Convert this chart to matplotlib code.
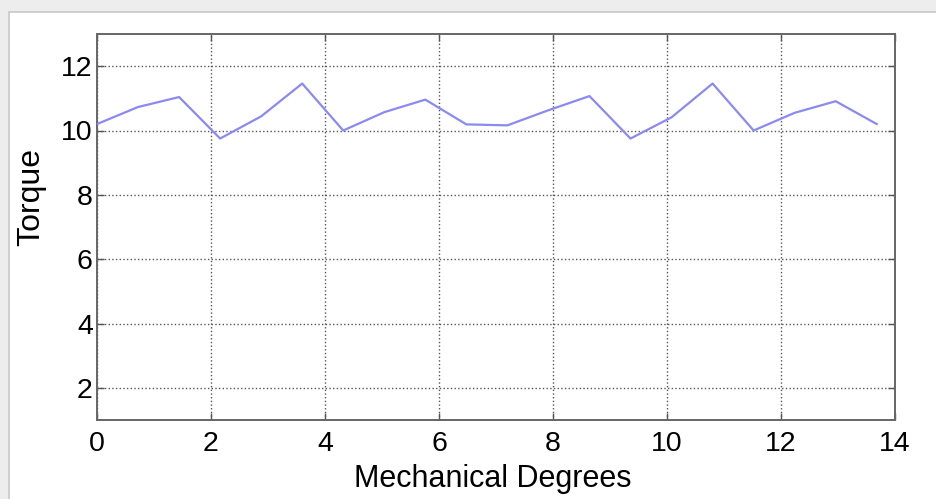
import matplotlib
matplotlib.use("Agg")
import matplotlib.pyplot as plt
from matplotlib.patches import Rectangle

# Data
degrees = [0.0, 0.72, 1.44, 2.16, 2.88, 3.60, 4.32, 5.04, 5.76, 6.48,
           7.20, 7.92, 8.64, 9.36, 10.08, 10.80, 11.52, 12.24, 12.96, 13.68]
torque = [10.20, 10.73, 11.04, 9.75, 10.44, 11.46, 10.00, 10.57, 10.96, 10.19,
          10.16, 10.63, 11.07, 9.75, 10.41, 11.46, 10.00, 10.55, 10.91, 10.20]
xticks = [0, 2, 4, 6, 8, 10, 12, 14]
yticks = [2, 4, 6, 8, 10, 12]

plt.rcParams['font.family'] = ['Liberation Sans', 'DejaVu Sans']

fig = plt.figure(figsize=(9.37, 4.99), dpi=100)
fig.patch.set_facecolor('#ededed')
bg = Rectangle((9/937, -0.01), 1.01 - 9/937, 1.01 - 12/499, transform=fig.transFigure,
               facecolor='white', edgecolor='#c8c8c8', linewidth=1.2, zorder=-10)
fig.patches.append(bg)

ax = fig.add_axes([97/937, 1 - 420/499, (895 - 97)/937, (420 - 34)/499])
ax.set_zorder(5)
ax.plot(degrees, torque, color='#8a8af0', linewidth=1.6, zorder=3)

ax.set_xlim(0, 14)
ax.set_ylim(1, 13)
ax.set_xticks(xticks)
ax.set_yticks(yticks)
ax.grid(True, linestyle=':', color='#555555', linewidth=1.0)
ax.tick_params(direction='in', length=5, width=1, colors='#555555',
               labelcolor='#000000', labelsize=20.5, top=True, right=True)
ax.tick_params(axis='x', pad=8)
ax.tick_params(axis='y', pad=3)
for s in ax.spines.values():
    s.set_color('#666666')
    s.set_linewidth(1.4)

ax.set_xlabel('Mechanical Degrees', fontsize=22, color='#000000')
ax.set_ylabel('Torque', fontsize=23, color='#000000')
ax.xaxis.set_label_coords(0.496, -0.115)
ax.yaxis.set_label_coords(-0.064, 0.578)

fig.savefig('out.png', dpi=100)
